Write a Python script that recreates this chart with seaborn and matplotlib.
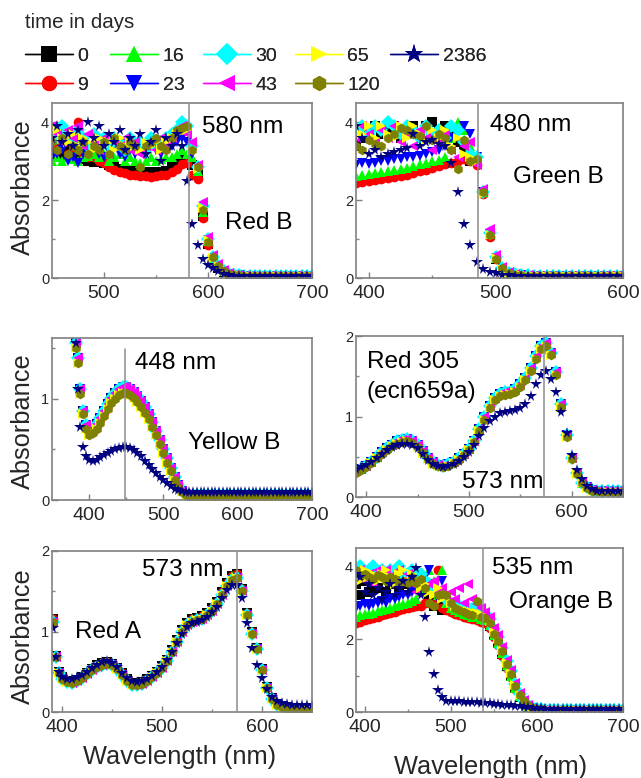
import matplotlib
matplotlib.use("Agg")
import matplotlib.pyplot as plt
import seaborn as sns
from matplotlib.lines import Line2D
from matplotlib.ticker import FixedLocator

sns.set_style("white")
plt.rcParams["font.family"] = ["Liberation Sans", "DejaVu Sans"]

# ---------------- series definitions ----------------
DAYS = ["0", "9", "16", "23", "30", "43", "65", "120", "2386"]
COLORS = ["#000000", "#ff0000", "#00ff00", "#0000ff", "#00ffff",
          "#ff00ff", "#ffff00", "#808000", "#000080"]
MARKERS = ["s", "o", "^", "v", "D", "<", ">", "h", "*"]

# ---------------- Red B (450-700 nm) ----------------
redb_wl = list(range(450, 701, 5))
redb_0 = [3.2, 3.4, 3.1, 3.3, 3.2, 3.1, 3.05, 3.0, 2.98, 3.0,
          2.95, 2.9, 2.85, 2.8, 2.78, 2.76, 2.74, 2.72, 2.72, 2.72,
          2.7, 2.72, 2.75, 2.85, 2.95, 3.05, 3.1, 2.9, 2.65, 1.6,
          0.88, 0.46, 0.27, 0.16, 0.11, 0.08, 0.07, 0.06, 0.06, 0.06,
          0.06, 0.06, 0.06, 0.06, 0.06, 0.06, 0.06, 0.06, 0.06, 0.06,
          0.06]
redb_9 = [3.4, 3.3, 3.5, 3.2, 3.3, 4.0, 3.2, 3.1, 3.1, 3.0,
          2.95, 2.85, 2.78, 2.72, 2.7, 2.66, 2.64, 2.62, 2.62, 2.6,
          2.62, 2.64, 2.66, 2.72, 2.8, 2.92, 2.95, 2.65, 2.55, 1.55,
          0.85, 0.45, 0.26, 0.15, 0.1, 0.08, 0.07, 0.06, 0.06, 0.06,
          0.06, 0.06, 0.06, 0.06, 0.06, 0.06, 0.06, 0.06, 0.06, 0.06,
          0.06]
redb_16 = [3.0, 3.1, 3.0, 3.1, 3.05, 3.0, 3.1, 3.15, 3.2, 3.1,
           3.2, 3.0, 3.1, 3.2, 3.0, 3.1, 3.0, 2.95, 3.0, 3.1,
           3.0, 3.05, 3.1, 3.1, 3.2, 3.3, 3.2, 3.1, 2.75, 1.7,
           0.95, 0.5, 0.3, 0.17, 0.11, 0.08, 0.07, 0.06, 0.06, 0.06,
           0.06, 0.06, 0.06, 0.06, 0.06, 0.06, 0.06, 0.06, 0.06, 0.06,
           0.06]
redb_23 = [3.1, 3.2, 3.3, 3.0, 3.1, 2.95, 3.2, 3.3, 3.4, 3.2,
           3.1, 3.3, 3.4, 3.2, 3.1, 3.3, 3.2, 3.3, 3.2, 3.4,
           3.3, 3.2, 3.3, 3.4, 3.5, 3.6, 3.5, 3.2, 2.8, 1.75,
           0.97, 0.5, 0.3, 0.17, 0.11, 0.08, 0.07, 0.06, 0.06, 0.06,
           0.06, 0.06, 0.06, 0.06, 0.06, 0.06, 0.06, 0.06, 0.06, 0.06,
           0.06]
redb_30 = [3.8, 3.6, 3.9, 3.7, 3.5, 3.8, 3.6, 3.4, 3.7, 3.5,
           3.6, 3.4, 3.6, 3.5, 3.3, 3.6, 3.4, 3.5, 3.3, 3.6,
           3.4, 3.5, 3.6, 3.7, 3.8, 4.0, 3.9, 3.4, 2.85, 1.85,
           1.0, 0.53, 0.31, 0.18, 0.11, 0.08, 0.07, 0.06, 0.06, 0.06,
           0.06, 0.06, 0.06, 0.06, 0.06, 0.06, 0.06, 0.06, 0.06, 0.06,
           0.06]
redb_43 = [3.9, 3.7, 3.5, 3.8, 3.6, 3.9, 3.4, 3.7, 3.5, 3.3,
           3.6, 3.2, 3.5, 3.4, 3.6, 3.3, 3.5, 3.2, 3.4, 3.5,
           3.3, 3.6, 3.4, 3.6, 3.8, 3.9, 3.7, 3.5, 2.9, 1.95,
           1.05, 0.6, 0.35, 0.2, 0.12, 0.09, 0.07, 0.06, 0.06, 0.06,
           0.06, 0.06, 0.06, 0.06, 0.06, 0.06, 0.06, 0.06, 0.06, 0.06,
           0.06]
redb_65 = [3.6, 3.8, 3.6, 3.5, 3.7, 3.4, 3.6, 3.5, 3.3, 3.6,
           3.4, 3.5, 3.3, 3.6, 3.4, 3.5, 3.4, 3.3, 3.5, 3.4,
           3.5, 3.3, 3.5, 3.6, 3.7, 3.8, 3.8, 3.3, 2.8, 1.8,
           0.98, 0.52, 0.3, 0.17, 0.11, 0.08, 0.07, 0.06, 0.06, 0.06,
           0.06, 0.06, 0.06, 0.06, 0.06, 0.06, 0.06, 0.06, 0.06, 0.06,
           0.06]
redb_120 = [3.5, 3.3, 3.6, 3.2, 3.4, 3.3, 3.5, 3.2, 3.4, 3.3,
            3.5, 3.2, 3.6, 3.4, 3.3, 3.5, 3.4, 2.85, 3.4, 3.5,
            3.6, 3.4, 3.3, 3.6, 3.8, 3.85, 3.9, 3.3, 2.85, 1.75,
            0.92, 0.53, 0.31, 0.18, 0.11, 0.08, 0.07, 0.06, 0.06, 0.06,
            0.06, 0.06, 0.06, 0.06, 0.06, 0.06, 0.06, 0.06, 0.06, 0.06,
            0.06]
redb_2386 = [3.6, 3.9, 3.5, 3.7, 3.4, 3.8, 3.5, 4.0, 3.6, 3.9,
             3.4, 3.7, 3.5, 3.8, 3.3, 3.6, 3.4, 3.7, 3.2, 3.5,
             3.8, 3.0, 3.6, 3.4, 3.7, 3.4, 2.5, 1.4, 0.85, 0.5,
             0.34, 0.25, 0.17, 0.1, 0.07, 0.05, 0.04, 0.04, 0.04, 0.04,
             0.04, 0.04, 0.04, 0.04, 0.04, 0.04, 0.04, 0.04, 0.04, 0.04,
             0.04]

# ---------------- Green B (390-600 nm) ----------------
greenb_wl = list(range(390, 601, 5))
gb_tail = [0.06, 0.06, 0.06, 0.06, 0.06, 0.06, 0.06, 0.06, 0.06, 0.06,
           0.06, 0.06, 0.06]
gb_0 = [3.4, 3.6, 3.8, 3.9, 3.7, 3.8, 3.9, 3.6, 3.8, 3.9,
        3.7, 3.9, 4.0, 3.8, 3.9, 3.7, 3.5, 3.3, 3.0, 3.0,
        2.2, 1.1, 0.5, 0.22, 0.13, 0.09, 0.07, 0.06, 0.06, 0.06] + gb_tail
gb_9 = [2.45, 2.47, 2.5, 2.52, 2.55, 2.58, 2.6, 2.63, 2.66, 2.7,
        2.74, 2.78, 2.83, 2.87, 2.92, 2.97, 3.0, 3.05, 3.0, 2.9,
        2.15, 1.05, 0.5, 0.22, 0.13, 0.09, 0.07, 0.06, 0.06, 0.06] + gb_tail
gb_16 = [2.62, 2.64, 2.67, 2.7, 2.72, 2.75, 2.78, 2.8, 2.84, 2.88,
         2.92, 2.96, 3.0, 3.04, 3.1, 3.6, 4.0, 3.8, 3.4, 3.0,
         2.2, 1.12, 0.52, 0.24, 0.13, 0.09, 0.07, 0.06, 0.06, 0.06] + gb_tail
gb_23 = [2.9, 2.95, 2.92, 2.95, 3.0, 3.0, 3.05, 3.05, 3.1, 3.1,
         3.15, 3.2, 3.25, 3.3, 3.4, 3.6, 3.75, 3.9, 3.7, 3.1,
         2.2, 1.12, 0.52, 0.24, 0.13, 0.09, 0.07, 0.06, 0.06, 0.06] + gb_tail
gb_30 = [3.8, 3.9, 3.7, 3.9, 3.8, 4.0, 3.9, 3.7, 3.9, 3.8,
         3.6, 3.9, 3.7, 3.8, 3.6, 3.9, 3.8, 3.5, 3.2, 3.1,
         2.2, 1.15, 0.55, 0.25, 0.14, 0.1, 0.08, 0.07, 0.06, 0.06] + gb_tail
gb_43 = [3.6, 3.9, 3.7, 3.5, 3.8, 3.6, 3.9, 3.5, 3.7, 3.4,
         3.8, 3.6, 3.3, 3.5, 3.7, 3.3, 3.1, 3.4, 3.5, 2.9,
         2.3, 1.25, 0.6, 0.28, 0.15, 0.1, 0.08, 0.07, 0.06, 0.06] + gb_tail
gb_65 = [3.9, 3.7, 3.9, 3.6, 3.9, 3.7, 3.6, 3.9, 3.6, 3.9,
         3.7, 3.5, 3.8, 3.6, 3.8, 3.4, 3.6, 3.2, 3.1, 3.0,
         2.15, 1.1, 0.52, 0.23, 0.13, 0.09, 0.07, 0.06, 0.06, 0.06] + gb_tail
gb_120 = [3.4, 3.3, 3.55, 3.45, 3.4, 3.6, 3.7, 3.85, 3.8, 3.7,
          3.65, 3.9, 3.55, 3.7, 3.6, 3.3, 2.8, 3.55, 3.0, 3.05,
          2.2, 1.1, 0.5, 0.25, 0.13, 0.09, 0.07, 0.06, 0.06, 0.06] + gb_tail
gb_2386 = [3.9, 3.6, 3.2, 3.3, 3.1, 3.2, 3.25, 3.3, 3.35, 3.7,
           3.4, 3.5, 3.55, 3.45, 3.4, 2.95, 2.2, 1.4, 0.85, 0.4,
           0.22, 0.15, 0.12, 0.09, 0.07, 0.05, 0.05, 0.05, 0.05, 0.05,
           0.05, 0.05, 0.05, 0.05, 0.05, 0.05, 0.05, 0.05, 0.05, 0.05,
           0.05, 0.05, 0.05]

# ---------------- Yellow B (382-700 nm) ----------------
yellowb_wl = [382, 385, 388, 392, 396] + list(range(400, 701, 5))
yb_group = [1.55, 1.4, 1.1, 0.88, 0.74,
            0.68, 0.7, 0.75, 0.81, 0.88, 0.95, 1.01, 1.06, 1.1, 1.12,
            1.12, 1.1, 1.07, 1.03, 0.98, 0.92, 0.85, 0.77, 0.68, 0.59,
            0.5, 0.41, 0.32, 0.23, 0.15, 0.09, 0.06, 0.05, 0.05, 0.05] + [0.05] * 31
yb_olive = [1.5, 1.35, 1.05, 0.85, 0.7,
            0.64, 0.66, 0.7, 0.76, 0.83, 0.9, 0.96, 1.0, 1.04, 1.06,
            1.06, 1.04, 1.01, 0.97, 0.92, 0.86, 0.8, 0.72, 0.64, 0.55,
            0.46, 0.37, 0.29, 0.2, 0.13, 0.08, 0.05, 0.04, 0.04, 0.04] + [0.04] * 31
yb_star = [1.55, 1.1, 0.72, 0.52, 0.43,
           0.4, 0.39, 0.4, 0.42, 0.44, 0.46, 0.48, 0.5, 0.51, 0.52,
           0.52, 0.51, 0.49, 0.46, 0.43, 0.39, 0.35, 0.31, 0.27, 0.23,
           0.2, 0.17, 0.14, 0.11, 0.095, 0.085, 0.08, 0.075, 0.075, 0.075] + [0.075] * 31

# ---------------- Red 305 (390-650 nm) ----------------
red305_wl = list(range(390, 651, 5))
r305_group = [0.32, 0.35, 0.39, 0.44, 0.5, 0.56, 0.61, 0.65, 0.69, 0.71,
              0.72, 0.7, 0.65, 0.57, 0.49, 0.43, 0.4, 0.39, 0.41, 0.44,
              0.48, 0.54, 0.6, 0.7, 0.85, 0.99, 1.13, 1.23, 1.28, 1.3,
              1.31, 1.34, 1.4, 1.48, 1.6, 1.75, 1.88, 1.91, 1.79, 1.55,
              1.15, 0.77, 0.49, 0.3, 0.18, 0.12, 0.09, 0.08, 0.07, 0.07,
              0.07, 0.07, 0.07]
r305_olive = [0.3, 0.33, 0.37, 0.42, 0.48, 0.54, 0.59, 0.63, 0.66, 0.68,
              0.69, 0.67, 0.62, 0.55, 0.47, 0.41, 0.38, 0.37, 0.39, 0.42,
              0.46, 0.52, 0.58, 0.68, 0.82, 0.96, 1.1, 1.2, 1.25, 1.27,
              1.28, 1.31, 1.37, 1.45, 1.57, 1.71, 1.84, 1.87, 1.76, 1.52,
              1.12, 0.74, 0.47, 0.28, 0.17, 0.11, 0.08, 0.07, 0.06, 0.06,
              0.06, 0.06, 0.06]
r305_star = [0.35, 0.37, 0.4, 0.44, 0.49, 0.54, 0.58, 0.62, 0.64, 0.66,
             0.66, 0.65, 0.61, 0.54, 0.46, 0.41, 0.38, 0.37, 0.38, 0.41,
             0.45, 0.5, 0.56, 0.65, 0.76, 0.86, 0.95, 1.0, 1.04, 1.06,
             1.07, 1.08, 1.1, 1.16, 1.26, 1.4, 1.52, 1.56, 1.47, 1.3,
             1.05, 0.8, 0.52, 0.34, 0.22, 0.14, 0.1, 0.08, 0.08, 0.08,
             0.08, 0.08, 0.08]

# ---------------- Red A (391-650 nm) ----------------
reda_wl = [391, 394, 397] + list(range(400, 651, 5))
ra_group = [1.15, 0.7, 0.5,
            0.43, 0.39, 0.38, 0.4, 0.44, 0.49, 0.54, 0.58, 0.61, 0.62,
            0.6, 0.55, 0.48, 0.41, 0.36, 0.35, 0.37, 0.41, 0.45, 0.5,
            0.57, 0.65, 0.77, 0.9, 1.02, 1.11, 1.15, 1.17, 1.19, 1.23,
            1.29, 1.37, 1.49, 1.6, 1.69, 1.71, 1.53, 1.23, 1.0, 0.8,
            0.54, 0.31, 0.17, 0.1, 0.06, 0.045, 0.04, 0.035, 0.035, 0.035,
            0.035]
ra_olive = [1.12, 0.68, 0.48,
            0.41, 0.37, 0.36, 0.38, 0.42, 0.47, 0.52, 0.56, 0.59, 0.6,
            0.58, 0.53, 0.46, 0.39, 0.34, 0.33, 0.35, 0.39, 0.43, 0.48,
            0.55, 0.63, 0.74, 0.87, 0.99, 1.08, 1.12, 1.14, 1.16, 1.2,
            1.26, 1.34, 1.45, 1.56, 1.64, 1.66, 1.5, 1.2, 0.97, 0.78,
            0.52, 0.3, 0.16, 0.09, 0.06, 0.04, 0.035, 0.03, 0.03, 0.03,
            0.03]
ra_star = [1.04, 0.68, 0.5,
           0.44, 0.41, 0.41, 0.43, 0.46, 0.5, 0.55, 0.59, 0.62, 0.63,
           0.61, 0.56, 0.49, 0.42, 0.38, 0.37, 0.38, 0.41, 0.45, 0.5,
           0.56, 0.64, 0.74, 0.86, 0.97, 1.05, 1.1, 1.12, 1.14, 1.18,
           1.24, 1.31, 1.41, 1.51, 1.58, 1.58, 1.42, 1.1, 0.8, 0.58,
           0.42, 0.28, 0.19, 0.14, 0.11, 0.095, 0.09, 0.09, 0.09, 0.09,
           0.09]

# ---------------- Orange B (390-700 nm) ----------------
orangeb_wl = list(range(390, 701, 5))
ob_tail = [0.06, 0.06, 0.06, 0.06, 0.06, 0.06, 0.06, 0.06, 0.06, 0.06,
           0.06, 0.06, 0.06]
ob_0 = [3.5, 3.2, 3.6, 3.3, 3.5, 3.4, 3.7, 3.3, 3.5, 3.6,
        3.4, 3.7, 3.5, 3.6, 3.4, 3.5, 3.3, 3.1, 2.9, 3.0,
        2.8, 2.9, 2.8, 2.75, 2.7, 2.65, 2.62, 2.6, 2.57, 2.53,
        2.5, 2.35, 2.1, 1.88, 1.6, 1.25, 0.98, 0.65, 0.42, 0.25,
        0.15, 0.1, 0.07, 0.06, 0.06, 0.06, 0.06, 0.06, 0.06, 0.06] + ob_tail
ob_9 = [2.45, 2.48, 2.52, 2.55, 2.58, 2.62, 2.65, 2.68, 2.72, 2.75,
        2.79, 2.82, 2.85, 2.88, 2.9, 2.92, 3.0, 3.0, 2.95, 3.9,
        2.85, 2.8, 2.75, 2.7, 2.66, 2.62, 2.58, 2.55, 2.52, 2.48,
        2.44, 2.3, 2.05, 1.85, 1.55, 1.22, 0.95, 0.62, 0.4, 0.25,
        0.15, 0.1, 0.07, 0.06, 0.06, 0.06, 0.06, 0.06, 0.06, 0.06] + ob_tail
ob_16 = [2.62, 2.65, 2.68, 2.7, 2.73, 2.76, 2.8, 2.82, 2.86, 2.9,
         2.93, 2.96, 3.0, 3.05, 3.1, 3.3, 3.5, 3.9, 3.6, 3.2,
         3.9, 3.0, 2.85, 2.8, 2.75, 2.7, 2.66, 2.62, 2.6, 2.56,
         2.52, 2.4, 2.12, 1.9, 1.62, 1.28, 1.0, 0.66, 0.43, 0.26,
         0.16, 0.1, 0.07, 0.06, 0.06, 0.06, 0.06, 0.06, 0.06, 0.06] + ob_tail
ob_23 = [2.85, 2.9, 2.95, 2.9, 2.95, 3.0, 3.05, 3.0, 3.1, 3.1,
         3.15, 3.2, 3.2, 3.3, 3.4, 3.5, 3.7, 3.9, 3.5, 3.1,
         3.6, 3.1, 3.0, 2.9, 2.85, 2.8, 2.76, 2.72, 2.7, 2.68,
         2.62, 2.48, 2.2, 1.98, 1.7, 1.35, 1.08, 0.72, 0.47, 0.28,
         0.17, 0.11, 0.08, 0.06, 0.06, 0.06, 0.06, 0.06, 0.06, 0.06] + ob_tail
ob_30 = [3.9, 4.0, 3.8, 3.9, 4.0, 3.8, 3.9, 3.7, 3.9, 3.8,
         4.0, 3.7, 3.8, 3.9, 3.7, 3.8, 3.6, 3.5, 3.4, 3.3,
         3.2, 3.1, 3.0, 2.95, 2.9, 2.88, 2.85, 2.82, 2.8, 2.78,
         2.7, 2.55, 2.28, 2.05, 1.75, 1.4, 1.12, 0.78, 0.5, 0.3,
         0.18, 0.12, 0.08, 0.07, 0.06, 0.06, 0.06, 0.06, 0.06, 0.06] + ob_tail
ob_43 = [3.7, 3.9, 3.6, 3.8, 3.5, 3.9, 3.7, 3.9, 3.6, 3.8,
         3.9, 3.6, 3.8, 3.5, 3.3, 3.6, 3.4, 3.5, 3.6, 3.3,
         3.4, 3.2, 3.3, 3.1, 3.4, 3.0, 3.5, 3.1, 2.95, 2.85,
         2.75, 2.6, 2.3, 2.1, 1.78, 1.42, 1.15, 0.8, 0.52, 0.32,
         0.19, 0.12, 0.08, 0.07, 0.06, 0.06, 0.06, 0.06, 0.06, 0.06] + ob_tail
ob_65 = [3.8, 3.6, 3.9, 3.7, 3.8, 3.6, 3.8, 3.9, 3.7, 3.5,
         3.8, 3.9, 3.6, 3.8, 3.6, 3.4, 3.5, 3.3, 3.2, 3.4,
         3.1, 3.2, 3.0, 2.9, 2.85, 2.8, 2.78, 2.75, 2.72, 2.68,
         2.62, 2.5, 2.2, 2.0, 1.7, 1.35, 1.08, 0.74, 0.48, 0.29,
         0.17, 0.11, 0.08, 0.06, 0.06, 0.06, 0.06, 0.06, 0.06, 0.06] + ob_tail
ob_120 = [3.9, 3.75, 3.8, 3.7, 3.65, 3.75, 3.7, 3.6, 3.7, 3.65,
          3.5, 3.6, 3.55, 3.7, 3.55, 3.65, 3.4, 3.0, 2.9, 3.2,
          3.25, 3.2, 3.0, 2.85, 2.8, 2.75, 2.7, 2.65, 3.05, 2.6,
          2.58, 2.45, 2.15, 1.95, 1.68, 1.33, 1.05, 0.7, 0.46, 0.29,
          0.18, 0.12, 0.09, 0.07, 0.06, 0.06, 0.06, 0.06, 0.06, 0.06] + ob_tail
ob_2386 = [3.8, 3.7, 3.3, 3.5, 3.2, 3.4, 3.1, 3.3, 3.5, 3.2,
           3.4, 3.6, 3.3, 3.7, 3.95, 3.2, 2.6, 1.65, 1.05, 0.6,
           0.4, 0.3, 0.3, 0.29, 0.29, 0.28, 0.28, 0.27, 0.27, 0.26,
           0.25, 0.24, 0.22, 0.21, 0.2, 0.19, 0.18, 0.17, 0.16, 0.14,
           0.13, 0.12, 0.11, 0.1, 0.09, 0.085, 0.08, 0.075, 0.075, 0.075,
           0.07, 0.07, 0.07, 0.07, 0.07, 0.07, 0.07, 0.07, 0.07, 0.07,
           0.07, 0.07, 0.07]

# series -> values per panel
REDB = dict(zip(DAYS, [redb_0, redb_9, redb_16, redb_23, redb_30,
                       redb_43, redb_65, redb_120, redb_2386]))
GREENB = dict(zip(DAYS, [gb_0, gb_9, gb_16, gb_23, gb_30,
                         gb_43, gb_65, gb_120, gb_2386]))
YELLOWB = dict(zip(DAYS, [yb_group, yb_group, yb_group, yb_group, yb_group,
                          yb_group, yb_olive, yb_olive, yb_star]))
RED305 = dict(zip(DAYS, [r305_group, r305_group, r305_group, r305_group,
                         r305_group, r305_group, r305_olive, r305_olive,
                         r305_star]))
REDA = dict(zip(DAYS, [ra_group, ra_group, ra_group, ra_olive, ra_olive,
                       ra_olive, ra_olive, ra_olive, ra_star]))
ORANGEB = dict(zip(DAYS, [ob_0, ob_9, ob_16, ob_23, ob_30,
                          ob_43, ob_65, ob_120, ob_2386]))

# ---------------- layout ----------------
W, H = 641, 778
PANELS = [
    dict(box=(52, 103, 312, 278), wl=redb_wl, data=REDB, xlim=(450, 700),
         ylim=(0, 4.5), xmaj=[500, 600, 700], xmin=[550, 650],
         ymaj=[0, 2, 4], ymin=[1, 3], vline=582, vtop=1.0,
         texts=[("580 nm", 0.576, 0.865), ("Red B", 0.665, 0.314)]),
    dict(box=(356, 103, 623, 278), wl=greenb_wl, data=GREENB, xlim=(390, 600),
         ylim=(0, 4.5), xmaj=[400, 500, 600], xmin=[450, 550],
         ymaj=[0, 2, 4], ymin=[1, 3], vline=486, vtop=1.0,
         texts=[("480 nm", 0.502, 0.874), ("Green B", 0.587, 0.579)]),
    dict(box=(52, 338, 312, 500), wl=yellowb_wl, data=YELLOWB, xlim=(350, 700),
         ylim=(0, 1.6), xmaj=[400, 500, 600, 700], xmin=[450, 550, 650],
         ymaj=[0, 1], ymin=[0.5, 1.5], vline=448, vtop=0.93,
         texts=[("448 nm", 0.319, 0.844), ("Yellow B", 0.523, 0.35)]),
    dict(box=(356, 336, 623, 497), wl=red305_wl, data=RED305, xlim=(390, 650),
         ylim=(0, 2), xmaj=[400, 500, 600], xmin=[450, 550],
         ymaj=[0, 1, 2], ymin=[0.5, 1.5], vline=573, vtop=1.0,
         texts=[("Red 305", 0.04, 0.84), ("(ecn659a)", 0.038, 0.654),
                ("573 nm", 0.396, 0.095)]),
    dict(box=(52, 551, 312, 712), wl=reda_wl, data=REDA, xlim=(390, 650),
         ylim=(0, 2), xmaj=[400, 500, 600], xmin=[450, 550],
         ymaj=[0, 1, 2], ymin=[0.5, 1.5], vline=575, vtop=1.0,
         texts=[("573 nm", 0.345, 0.882), ("Red A", 0.088, 0.499)]),
    dict(box=(356, 548, 623, 712), wl=orangeb_wl, data=ORANGEB, xlim=(390, 700),
         ylim=(0, 4.5), xmaj=[400, 500, 600, 700], xmin=[450, 550, 650],
         ymaj=[0, 2, 4], ymin=[1, 3], vline=538, vtop=1.0,
         texts=[("535 nm", 0.508, 0.876), ("Orange B", 0.574, 0.672)]),
]

SPINE = "#808080"
fig = plt.figure(figsize=(W / 100, H / 100), dpi=100)
fig.patch.set_facecolor("white")

for p in PANELS:
    l, t, r, b = p["box"]
    ax = fig.add_axes([l / W, 1 - b / H, (r - l) / W, (b - t) / H])
    for day, col, mk in zip(DAYS, COLORS, MARKERS):
        ms = 8.5 if mk == "*" else 7
        sns.lineplot(x=p["wl"], y=p["data"][day], ax=ax, color=col, marker=mk,
                     markersize=ms, markeredgewidth=0, markeredgecolor=col,
                     linewidth=0, estimator=None, sort=False, legend=False)
    ax.axvline(p["vline"], ymax=p["vtop"], color="#8c8c8c", lw=1.1, zorder=6)
    ax.set_xlim(*p["xlim"])
    ax.set_ylim(*p["ylim"])
    ax.xaxis.set_major_locator(FixedLocator(p["xmaj"]))
    ax.xaxis.set_minor_locator(FixedLocator(p["xmin"]))
    ax.yaxis.set_major_locator(FixedLocator(p["ymaj"]))
    ax.yaxis.set_minor_locator(FixedLocator(p["ymin"]))
    ax.set_yticklabels([("%g" % v) for v in p["ymaj"]])
    ax.set_xlabel("")
    ax.set_ylabel("")
    ax.tick_params(axis="both", which="major", direction="in", length=4,
                   width=1, color=SPINE, bottom=True, left=True)
    ax.tick_params(axis="both", which="minor", direction="in", length=2.5,
                   width=1, color=SPINE, bottom=True, left=True)
    ax.tick_params(axis="x", labelsize=14, pad=5)
    ax.tick_params(axis="y", labelsize=10.5, pad=2)
    for s in ax.spines.values():
        s.set_color(SPINE)
        s.set_linewidth(1.2)
    for txt, xf, yf in p["texts"]:
        ax.text(xf, yf, txt, transform=ax.transAxes, ha="left", va="center",
                fontsize=17.6, color="black", zorder=8)

# axis titles
for yc in (187, 421, 636):
    fig.text(23 / W, 1 - yc / H, "Absorbance", rotation=90, ha="center",
             va="center", fontsize=18.3)
fig.text(179.5 / W, 1 - 757 / H, "Wavelength (nm)", ha="center", va="center",
         fontsize=18.3)
fig.text(491 / W, 1 - 767 / H, "Wavelength (nm)", ha="center", va="center",
         fontsize=18.3)

# legend: title + five columns (two rows)
fig.text(25 / W, 1 - 22 / H, "time in days", ha="left", va="center",
         fontsize=14.8)
handles = [Line2D([0], [0], color=c, marker=m, markersize=(14 if m == "*" else 11),
                  markeredgewidth=0, lw=1) for c, m in zip(COLORS, MARKERS)]
col_x = [25, 110, 203, 295, 390]
for ci, x0 in enumerate(col_x):
    idx = [i for i in (2 * ci, 2 * ci + 1) if i < len(DAYS)]
    lg = fig.legend([handles[i] for i in idx], [DAYS[i] for i in idx],
                    loc="upper left", bbox_to_anchor=(x0 / W, 1 - 47 / H),
                    ncol=1, frameon=False, fontsize=14, handlelength=2.45,
                    handletextpad=0.25, labelspacing=0.6, borderaxespad=0,
                    borderpad=0)
    fig.add_artist(lg)

fig.savefig("out.png", dpi=100, facecolor="white")
